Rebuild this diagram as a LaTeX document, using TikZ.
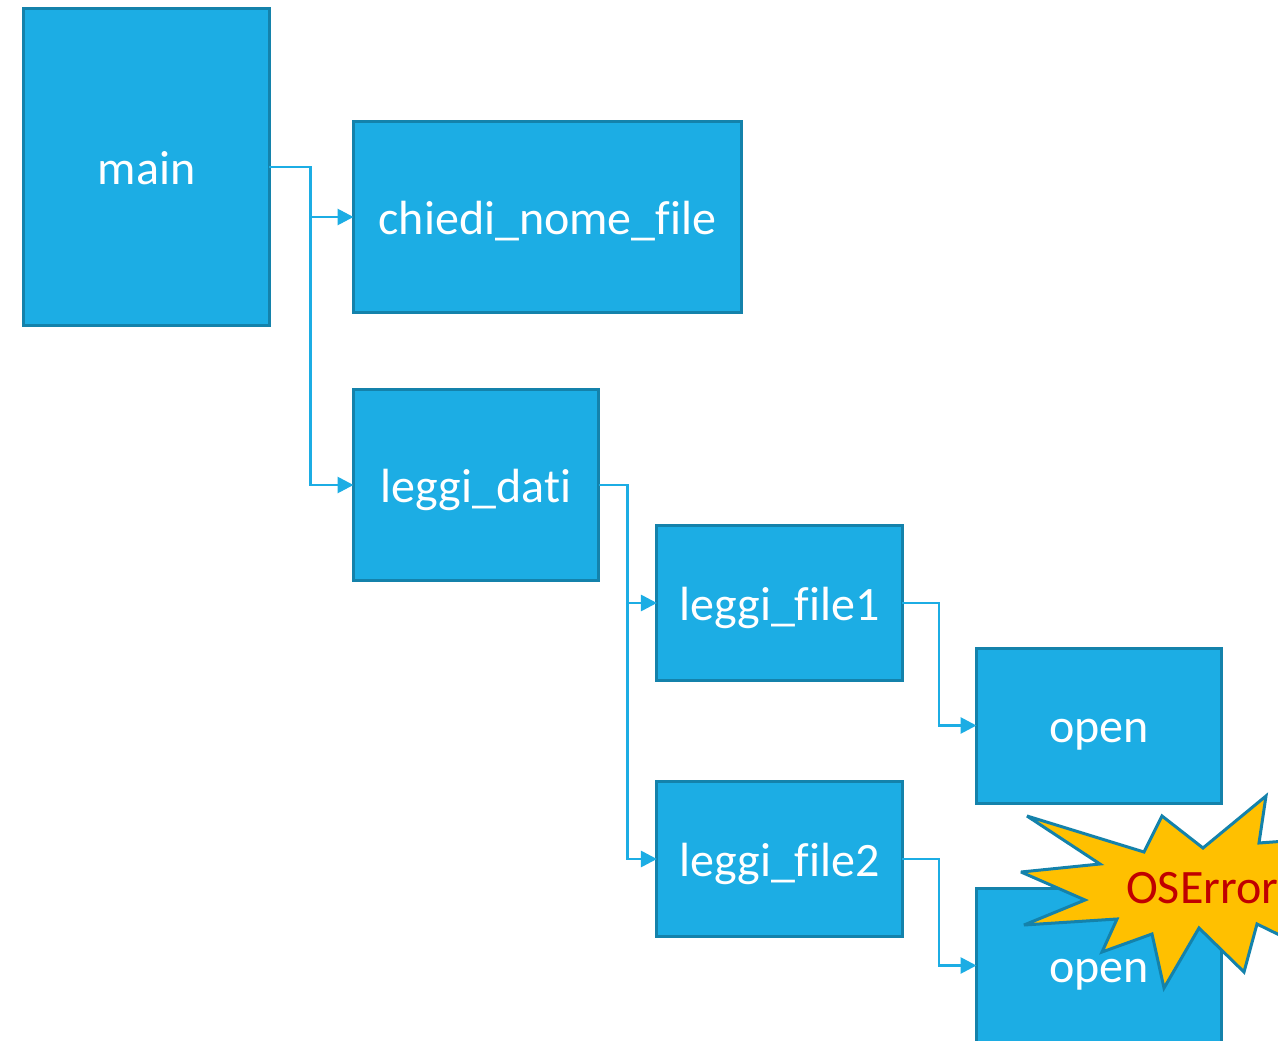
\documentclass[tikz,border=0pt]{standalone}
\usepackage{fontspec}
\setmainfont[Ligatures={NoCommon}]{Carlito}
\usetikzlibrary{arrows.meta}
\definecolor{boxfill}{HTML}{1CADE4}
\definecolor{boxedge}{HTML}{1482AB}
\definecolor{starfill}{HTML}{FFC000}
\definecolor{startext}{HTML}{C00000}
\tikzset{
  fnbox/.style={draw=boxedge,fill=boxfill,line width=3pt,text=white,inner sep=0pt,outer sep=0pt,
    font=\fontsize{48}{56}\selectfont,text height=34pt,text depth=0pt},
  call/.style={draw=boxfill,line width=2.8pt,-{Triangle[length=16pt,width=16pt]}},
}
\begin{document}
\begin{tikzpicture}[x=1pt,y=-1pt]
\useasboundingbox (0,0) rectangle (1278,1041);
\clip (0,0) rectangle (1278,1041);
\fill[white] (0,0) rectangle (1278,1041);
\node[fnbox,minimum width=245.5pt,minimum height=316pt] (main) at (146.5,167) {main};
\node[fnbox,minimum width=388pt,minimum height=191pt] (chiedi) at (547.5,217) {chiedi\_nome\_file};
\node[fnbox,minimum width=245pt,minimum height=191pt] (dati) at (476,485) {leggi\_dati};
\node[fnbox,minimum width=245.5pt,minimum height=155pt] (file1) at (779.7,603) {leggi\_file1};
\node[fnbox,minimum width=245.5pt,minimum height=155pt] (file2) at (779.7,859) {leggi\_file2};
\node[fnbox,minimum width=245pt,minimum height=155pt] (open1) at (1099,725.5) {open};
\node[fnbox,minimum width=245pt,minimum height=155pt] (open2) at (1099,965.5) {open};
\draw[call] (main.east) -- ++(41.5,0) |- (chiedi.west);
\draw[call] (main.east) -- ++(41.5,0) |- (dati.west);
\draw[call] (dati.east) -- ++(29,0) |- (file1.west);
\draw[call] (dati.east) -- ++(29,0) |- (file2.west);
\draw[call] (file1.east) -- ++(36.5,0) |- (open1.west);
\draw[call] (file2.east) -- ++(36.5,0) |- (open2.west);
\draw[draw=boxedge,fill=starfill,line width=3pt,line join=miter,miter limit=3]
  (1027,816) -- (1144,852) -- (1162,816) -- (1203,848) -- (1266,796) -- (1259,843)
  -- (1300,840) -- (1300,945) -- (1257,924) -- (1244,972) -- (1199,928) -- (1164,988)
  -- (1152,934) -- (1102,952) -- (1117,919) -- (1024,925) -- (1085,900) -- (1021,872)
  -- (1100,864) -- cycle;
\node[text=startext,font=\fontsize{48}{56}\selectfont,anchor=base west,inner sep=0pt] (err) at (1126,903) {OSError};
\end{tikzpicture}
\end{document}
